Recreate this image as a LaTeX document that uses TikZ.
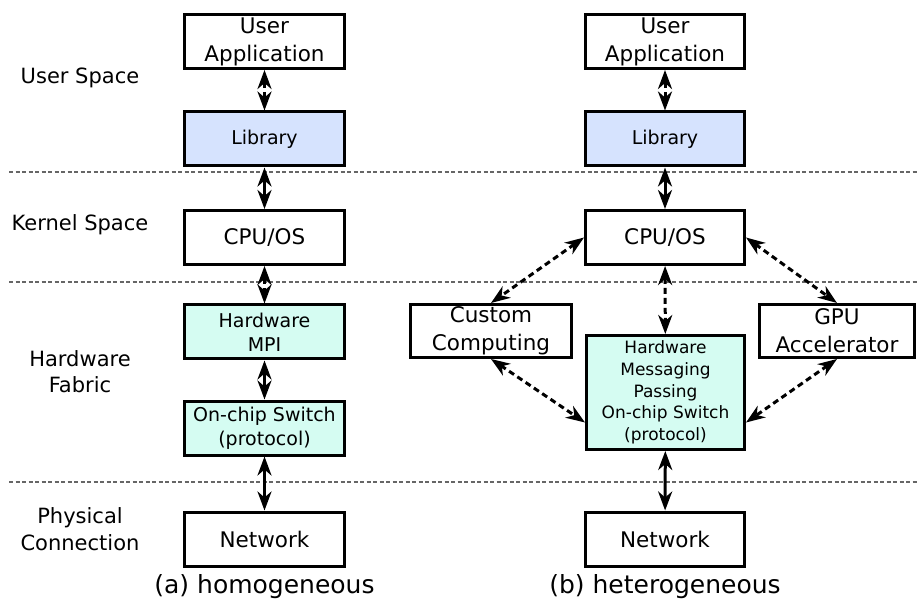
\documentclass[tikz,border=0pt]{standalone}
\usepackage{fontspec}
\setmainfont{DejaVu Sans}
\usetikzlibrary{arrows.meta,positioning}

\definecolor{libblue}{RGB}{214,227,254}
\definecolor{hwcyan}{RGB}{213,252,242}

\tikzset{
  blk/.style={draw, line width=3pt, align=center, inner sep=0pt,
    minimum width=160pt, minimum height=54pt, font=\fontsize{21.5}{28}\selectfont},
  libblk/.style={blk, fill=libblue, font=\fontsize{19}{24}\selectfont},
  hwblk/.style={blk, fill=hwcyan, font=\fontsize{19}{24}\selectfont},
  biarrow/.style={line width=3pt, {Stealth[length=19pt,width=14pt,inset=6pt]}-{Stealth[length=19pt,width=14pt,inset=6pt]}},
  dasharrow/.style={biarrow, dash pattern=on 6pt off 4pt},
  layerline/.style={black!60, line width=1.2pt, dash pattern=on 4pt off 2.5pt},
  layerlbl/.style={align=center, font=\fontsize{21}{26}\selectfont},
  caption/.style={inner sep=0pt, font=\fontsize{25}{30}\selectfont}
}

\begin{document}
\begin{tikzpicture}[x=1pt, y=-1pt]
  \useasboundingbox (0,0) rectangle (918,601);

  % layers
  \coordinate (l1a) at (9,172);  \coordinate (l1b) at (918,172);
  \coordinate (l2a) at (9,282);  \coordinate (l2b) at (918,282);
  \coordinate (l3a) at (9,482);  \coordinate (l3b) at (918,482);
  \draw[layerline] (l1a) -- (l1b);
  \draw[layerline] (l2a) -- (l2b);
  \draw[layerline] (l3a) -- (l3b);

  \node[layerlbl] (usr) at (80,78) {User Space};
  \node[layerlbl] (krn) at (80,225) {Kernel Space};
  \node[layerlbl] (fab) at (80,372) {Hardware\\Fabric};
  \node[layerlbl, font=\fontsize{21}{27}\selectfont] (phy) at (80,529) {Physical\\Connection};

  % (a) homogeneous
  \node[blk] (ua1) at (264.5,41.5) {User\\Application};
  \node[libblk] (lib1) at (264.5,139) {Library};
  \node[blk] (cpu1) at (264.5,237.5) {CPU/OS};
  \node[hwblk] (mpi1) at (264.5,332) {Hardware\\MPI};
  \node[hwblk] (sw1) at (264.5,428) {On-chip Switch\\(protocol)};
  \node[blk] (net1) at (264.5,539) {Network};
  \node[caption, below=7pt of net1] (capa) {(a) homogeneous};

  \draw[dasharrow] (ua1) -- (lib1);
  \draw[biarrow] (lib1) -- (cpu1);
  \draw[dasharrow] (cpu1) -- (mpi1);
  \draw[biarrow] (mpi1) -- (sw1);
  \draw[biarrow] (sw1) -- (net1);

  % (b) heterogeneous
  \node[blk, minimum width=159pt] (ua2) at (665,41.5) {User\\Application};
  \node[libblk, minimum width=159pt] (lib2) at (665,139) {Library};
  \node[blk, minimum width=159pt] (cpu2) at (665,237.5) {CPU/OS};
  \node[hwblk, minimum width=158pt, minimum height=114pt,
    font=\fontsize{17}{21.7}\selectfont] (hmp) at (665.5,392.5)
    {Hardware\\Messaging\\Passing\\On-chip Switch\\(protocol)};
  \node[blk, minimum width=161pt, minimum height=53pt] (cc) at (491,331) {Custom\\Computing};
  \node[blk, minimum width=155pt, minimum height=53pt] (gpu) at (837,331) {GPU\\Accelerator};
  \node[blk, minimum width=159pt] (net2) at (665,539) {Network};
  \node[caption, below=7pt of net2] (capb) {(b) heterogeneous};

  \draw[dasharrow] (ua2) -- (lib2);
  \draw[biarrow] (lib2) -- (cpu2);
  \draw[dasharrow] (cpu2) -- (hmp);
  \draw[biarrow] (hmp) -- (net2);
  \draw[dasharrow] (cpu2.west) -- (cc.north);
  \draw[dasharrow] (cc.south) -- ([yshift=-30pt]hmp.west);
  \draw[dasharrow] (cpu2.east) -- (gpu.north);
  \draw[dasharrow] (gpu.south) -- ([yshift=-30pt]hmp.east);
\end{tikzpicture}
\end{document}
